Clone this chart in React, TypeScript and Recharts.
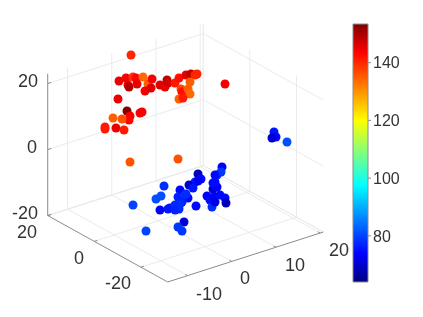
import { Bar, ComposedChart, ReferenceLine, Scatter, ScatterChart, XAxis, YAxis, ZAxis, Cell } from "recharts";

// Points: position on the view plane, then the colour value.
const viewH = [
  131, 119, 126, 133, 136, 143, 128, 129, 137, 148, 152, 145, 151, 160, 167, 165, 168, 175, 179, 186, 191, 195, 197,
  190, 181, 182, 188, 190, 179, 183, 118, 127, 130, 129, 140, 142, 113, 122, 105, 105, 116, 124, 130, 178, 225,
  274, 276, 272, 287,
  164, 133, 156, 161, 160, 168, 170, 175, 180, 178, 185, 188, 182, 196, 179, 175, 180, 184, 178, 182, 146,
  198, 201, 195, 189, 193, 198, 186, 207, 210, 214, 220, 212, 215, 225, 226, 213, 217, 215, 217, 222, 221, 215, 213,
];
const viewV = [
  55, 81, 78, 77, 78, 77, 85, 87, 84, 84, 79, 91, 88, 85, 80, 87, 83, 83, 78, 75, 74, 75, 74,
  82, 89, 92, 89, 94, 99, 98, 99, 111, 116, 120, 113, 112, 118, 119, 127, 129, 128, 130, 162, 159, 84,
  132, 137, 138, 142,
  186, 205, 199, 196, 210, 209, 208, 205, 190, 197, 195, 198, 202, 206, 209, 210, 204, 222, 227, 231, 231,
  174, 179, 182, 185, 188, 181, 194, 196, 200, 197, 195, 207, 202, 198, 203, 189, 187, 182, 175, 167, 172, 175, 183,
];
const colorValue = [
  139, 144, 143, 138, 142, 133, 145, 149, 144, 134, 143, 143, 145, 145, 148, 144, 146, 140, 141, 145, 148, 139, 139,
  134, 136, 141, 134, 133, 134, 140, 144, 153, 143, 142, 143, 143, 134, 135, 140, 140, 144, 140, 135, 135, 143,
  77, 76, 71, 82,
  79, 81, 82, 82, 75, 77, 77, 79, 76, 78, 80, 76, 78, 76, 79, 78, 79, 72, 80, 80, 81,
  69, 76, 78, 71, 77, 75, 79, 75, 76, 75, 76, 79, 73, 76, 69, 71, 75, 76, 78, 75, 80, 76, 76,
];

const xTicks = [-10, 0, 10, 20];
const yTicks = [-20, 0, 20];
const zTicks = [-20, 0, 20];
const colorTicks = [80, 100, 120, 140];

const X_MIN = -14.5;
const X_MAX = 20.7;
const Y_MIN = -31.5;
const Y_MAX = 20;
const Z_MIN = -20;
const Z_MAX = 23;
const C_MIN = 64;
const C_MAX = 153.4;

const grid = "#ebebeb";
const axisColor = "#8c8c8c";
const textColor = "#333333";

function project(x: number, y: number, z: number) {
  return {
    x: 167.7 + 4.42 * (x - X_MIN) - 2.33 * (y - Y_MIN),
    y: 282 - 1.42 * (x - X_MIN) - 1.29 * (y - Y_MIN) - 3.3 * (z - Z_MIN),
  };
}

function jet(v: number) {
  const t = (v - C_MIN) / (C_MAX - C_MIN);
  const ch = (c: number) => Math.round(255 * Math.max(0, Math.min(1, 1.5 - Math.abs(4 * t - c))));
  return `rgb(${ch(3)},${ch(2)},${ch(1)})`;
}

const points = viewH.map((h, i) => ({ h, v: viewV[i], c: colorValue[i] }));
const colorBar = [{ name: "c", range: [C_MIN, C_MAX] }];

type Seg = { a: number[]; b: number[]; color: string };
const segments: Seg[] = [];
const add = (a: number[], b: number[], color = grid) => segments.push({ a, b, color });

xTicks.forEach((x) => {
  add([x, Y_MIN, Z_MIN], [x, Y_MAX, Z_MIN]);
  add([x, Y_MAX, Z_MIN], [x, Y_MAX, Z_MAX]);
});
yTicks.forEach((y) => {
  add([X_MIN, y, Z_MIN], [X_MAX, y, Z_MIN]);
  add([X_MAX, y, Z_MIN], [X_MAX, y, Z_MAX]);
});
zTicks.forEach((z) => {
  add([X_MIN, Y_MAX, z], [X_MAX, Y_MAX, z]);
  add([X_MAX, Y_MAX, z], [X_MAX, Y_MIN, z]);
});
add([X_MIN, Y_MAX, Z_MIN], [X_MAX, Y_MAX, Z_MIN]);
add([X_MAX, Y_MAX, Z_MIN], [X_MAX, Y_MIN, Z_MIN]);
add([X_MAX, Y_MAX, Z_MIN], [X_MAX, Y_MAX, Z_MAX]);

// axis lines and their short ticks
add([X_MIN, Y_MIN, Z_MIN], [X_MAX, Y_MIN, Z_MIN], axisColor);
add([X_MIN, Y_MIN, Z_MIN], [X_MIN, Y_MAX, Z_MIN], axisColor);
add([X_MIN, Y_MAX, Z_MIN], [X_MIN, Y_MAX, Z_MAX], axisColor);
xTicks.forEach((x) => add([x, Y_MIN, Z_MIN], [x, Y_MIN + 1, Z_MIN], axisColor));
yTicks.forEach((y) => add([X_MIN, y, Z_MIN], [X_MIN + 0.7, y, Z_MIN], axisColor));
zTicks.forEach((z) => add([X_MIN, Y_MAX, z], [X_MIN + 0.8, Y_MAX, z], axisColor));

const labels = [
  { h: 28, v: 81, text: "20" },
  { h: 32, v: 147, text: "0" },
  { h: 25, v: 213, text: "-20" },
  { h: 27, v: 232, text: "20" },
  { h: 79, v: 258, text: "0" },
  { h: 118, v: 283, text: "-20" },
  { h: 209, v: 294, text: "-10" },
  { h: 245, v: 278, text: "0" },
  { h: 295, v: 265, text: "10" },
  { h: 339, v: 250, text: "20" },
];

function LabelShape(props: any) {
  return (
    <text x={props.cx} y={props.cy} dy="0.36em" textAnchor="middle" fontSize={18} fill={textColor} fontFamily="'Liberation Sans', Arial, sans-serif">
      {props.payload.text}
    </text>
  );
}

export default function App() {
  return (
    <div style={{ position: "fixed", left: 0, top: 0, width: 423, height: 317, background: "#fff", filter: "blur(0.35px)" }}>
      <div style={{ position: "absolute", left: 0, top: 0 }}>
        <ScatterChart width={423} height={317} margin={{ top: 0, right: 0, bottom: 0, left: 0 }}>
          <XAxis type="number" dataKey="h" domain={[0, 423]} hide />
          <YAxis type="number" dataKey="v" domain={[0, 317]} reversed hide />
          <ZAxis range={[52, 52]} />
          {segments.map((s, i) => (
            <ReferenceLine
              key={i}
              segment={[project(s.a[0], s.a[1], s.a[2]), project(s.b[0], s.b[1], s.b[2])]}
              stroke={s.color}
              strokeWidth={1}
              ifOverflow="visible"
            />
          ))}
          <Scatter data={points} isAnimationActive={false}>
            {points.map((p, i) => (
              <Cell key={i} fill={jet(p.c)} />
            ))}
          </Scatter>
          <Scatter data={labels} isAnimationActive={false} shape={LabelShape} />
        </ScatterChart>
      </div>
      <div style={{ position: "absolute", left: 0, top: 0 }}>
        <ComposedChart width={423} height={317} data={colorBar} barCategoryGap={0} margin={{ top: 24, right: 0, bottom: 35, left: 353 }}>
          <defs>
            <linearGradient id="jetBar" x1="0" y1="1" x2="0" y2="0">
              <stop offset="0" stopColor="#00007f" />
              <stop offset="0.11" stopColor="#0000ff" />
              <stop offset="0.375" stopColor="#00ffff" />
              <stop offset="0.625" stopColor="#ffff00" />
              <stop offset="0.89" stopColor="#ff0000" />
              <stop offset="1" stopColor="#7f0000" />
            </linearGradient>
          </defs>
          <XAxis dataKey="name" hide />
          <YAxis
            orientation="right"
            type="number"
            domain={[C_MIN, C_MAX]}
            ticks={colorTicks}
            width={55}
            axisLine={false}
            tickSize={3}
            tickLine={{ stroke: axisColor }}
            tick={{ fontSize: 16, fill: textColor, fontFamily: "'Liberation Sans', Arial, sans-serif" }}
          />
          <Bar dataKey="range" fill="url(#jetBar)" stroke={axisColor} isAnimationActive={false} />
        </ComposedChart>
      </div>
    </div>
  );
}
